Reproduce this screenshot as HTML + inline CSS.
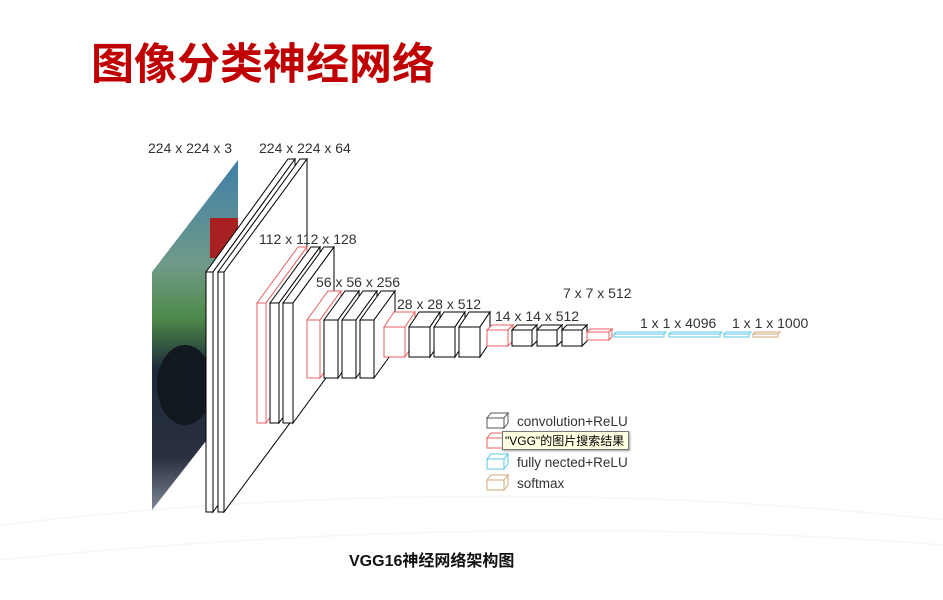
<!DOCTYPE html>
<html><head><meta charset="utf-8"><style>
html,body{margin:0;padding:0;background:#fff;width:943px;height:600px;overflow:hidden;position:relative;font-family:"Liberation Sans","Noto Sans CJK SC",sans-serif}
.t{position:absolute;left:91px;top:30px;font-size:43px;font-weight:bold;color:#c00000;white-space:nowrap;font-family:"Liberation Sans","Noto Sans CJK SC",sans-serif}
.cap{position:absolute;left:349px;top:547px;font-size:16px;font-weight:bold;color:#111;white-space:nowrap}
svg{position:absolute;left:0;top:0}
.tip{position:absolute;left:502px;top:431px;width:127px;height:19px;background:#ffffe1;border:1px solid #777;font-size:12px;line-height:19px;padding-left:2px;box-sizing:border-box;white-space:nowrap;color:#000;box-shadow:1px 1px 2px #999}
</style></head><body>
<div class="t">图像分类神经网络</div>
<svg width="943" height="600" viewBox="0 0 943 600" font-family="Liberation Sans, sans-serif" font-size="14" fill="#333">
<defs>
<linearGradient id="img" x1="0" y1="0" x2="0" y2="1">
<stop offset="0" stop-color="#3f7fa8"/><stop offset="0.3" stop-color="#6f9a88"/><stop offset="0.45" stop-color="#4f8a4a"/><stop offset="0.6" stop-color="#1d2a3a"/><stop offset="0.85" stop-color="#2a3040"/><stop offset="1" stop-color="#7b8694"/>
</linearGradient>
</defs>
<path d="M0 525 Q470 470 943 520" stroke="#f4f6f8" fill="none" stroke-width="1.5"/>
<path d="M0 560 Q500 510 943 545" stroke="#f4f6f8" fill="none" stroke-width="1.5"/>
<polygon points="152,272 238,160 238,400 152,510" fill="url(#img)"/>
<rect x="210" y="218" width="28" height="40" fill="#a82020"/>
<ellipse cx="185" cy="385" rx="28" ry="40" fill="#111820"/>
<g fill="#fff" stroke-width="1">
<g stroke="#000">
<polygon points="206,272 288,159 295,159 213,272"/><polygon points="213,272 295,159 295,400 213,512"/><rect x="206" y="272" width="7" height="240"/>
<polygon points="218,272 300,159 307,159 225,272"/><polygon points="224,272 307,159 307,400 224,512"/><rect x="218" y="272" width="6" height="240"/>
</g>
<g stroke="#e86060">
<polygon points="257,303 298,247 307,247 266,303"/><polygon points="266,303 307,247 307,367 266,423"/><rect x="257" y="303" width="9" height="120"/>
</g>
<g stroke="#000">
<polygon points="270,303 311,247 320,247 279,303"/><polygon points="279,303 320,247 320,367 279,423"/><rect x="270" y="303" width="9" height="120"/>
<polygon points="283,303 324,247 334,247 293,303"/><polygon points="293,303 334,247 334,367 293,423"/><rect x="283" y="303" width="10" height="120"/>
</g>
<g stroke="#e86060">
<polygon points="307,320 328,291 341,291 320,320"/><polygon points="320,320 341,291 341,349 320,378"/><rect x="307" y="320" width="13" height="58"/>
</g>
<g stroke="#000">
<polygon points="324,320 345,291 359,291 338,320"/><polygon points="338,320 359,291 359,349 338,378"/><rect x="324" y="320" width="14" height="58"/>
<polygon points="342,320 363,291 377,291 356,320"/><polygon points="356,320 377,291 377,349 356,378"/><rect x="342" y="320" width="14" height="58"/>
<polygon points="360,320 381,291 395,291 374,320"/><polygon points="374,320 395,291 395,349 374,378"/><rect x="360" y="320" width="14" height="58"/>
</g>
<g stroke="#e86060">
<polygon points="384,327 394,312 415,312 405,327"/><polygon points="405,327 415,312 415,342 405,357"/><rect x="384" y="327" width="21" height="30"/>
</g>
<g stroke="#000">
<polygon points="409,327 419,312 440,312 430,327"/><polygon points="430,327 440,312 440,342 430,357"/><rect x="409" y="327" width="21" height="30"/>
<polygon points="434,327 444,312 465,312 455,327"/><polygon points="455,327 465,312 465,342 455,357"/><rect x="434" y="327" width="21" height="30"/>
<polygon points="459,327 469,312 490,312 480,327"/><polygon points="480,327 490,312 490,342 480,357"/><rect x="459" y="327" width="21" height="30"/>
</g>
<g stroke="#e86060">
<polygon points="487,330 492,325 513,325 508,330"/><polygon points="508,330 513,325 513,341 508,346"/><rect x="487" y="330" width="21" height="16"/>
</g>
<g stroke="#000">
<polygon points="512,330 517,325 537,325 532,330"/><polygon points="532,330 537,325 537,341 532,346"/><rect x="512" y="330" width="20" height="16"/>
<polygon points="537,330 542,325 562,325 557,330"/><polygon points="557,330 562,325 562,341 557,346"/><rect x="537" y="330" width="20" height="16"/>
<polygon points="562,330 567,325 587,325 582,330"/><polygon points="582,330 587,325 587,341 582,346"/><rect x="562" y="330" width="20" height="16"/>
</g>
<g stroke="#e86060">
<polygon points="587,332 590,329 612,329 609,332"/><polygon points="609,332 612,329 612,337 609,340"/><rect x="587" y="332" width="22" height="8"/>
</g>
<g stroke="#5bc8e8">
<polygon points="614,334 616,332 666,332 664,334"/><rect x="614" y="334" width="50" height="3"/>
<polygon points="669,334 671,332 722,332 720,334"/><rect x="669" y="334" width="51" height="3"/>
<polygon points="724,334 726,332 751,332 749,334"/><rect x="724" y="334" width="25" height="3"/>
</g>
<g stroke="#d2a878">
<polygon points="753,334 755,332 780,332 778,334"/><rect x="753" y="334" width="25" height="3"/>
</g>
<g stroke="#555"><polygon points="487,418 491,413 508,413 504,418"/><polygon points="504,418 508,413 508,423 504,428"/><rect x="487" y="418" width="17" height="10"/></g>
<g stroke="#e86060"><polygon points="487,438 491,433 508,433 504,438"/><rect x="487" y="438" width="17" height="10"/></g>
<g stroke="#5bc8e8"><polygon points="487,459 491,454 508,454 504,459"/><polygon points="504,459 508,454 508,464 504,469"/><rect x="487" y="459" width="17" height="10"/></g>
<g stroke="#d2a878"><polygon points="487,480 491,475 508,475 504,480"/><polygon points="504,480 508,475 508,485 504,490"/><rect x="487" y="480" width="17" height="10"/></g>
</g>
<g fill="#333">
<text x="148" y="153">224 x 224 x 3</text>
<text x="259" y="153">224 x 224 x 64</text>
<text x="259" y="244">112 x 112 x 128</text>
<text x="316" y="287">56 x 56 x 256</text>
<text x="397" y="309">28 x 28 x 512</text>
<text x="495" y="321">14 x 14 x 512</text>
<text x="563" y="298">7 x 7 x 512</text>
<text x="640" y="328">1 x 1 x 4096</text>
<text x="732" y="328">1 x 1 x 1000</text>
<text x="517" y="426" font-size="13.5">convolution+ReLU</text>
<text x="517" y="467" font-size="13.5">fully nected+ReLU</text>
<text x="517" y="488" font-size="13.5">softmax</text>
</g>
</svg>
<div class="tip">"VGG"的图片搜索结果</div>
<div class="cap">VGG16神经网络架构图</div>
</body></html>
